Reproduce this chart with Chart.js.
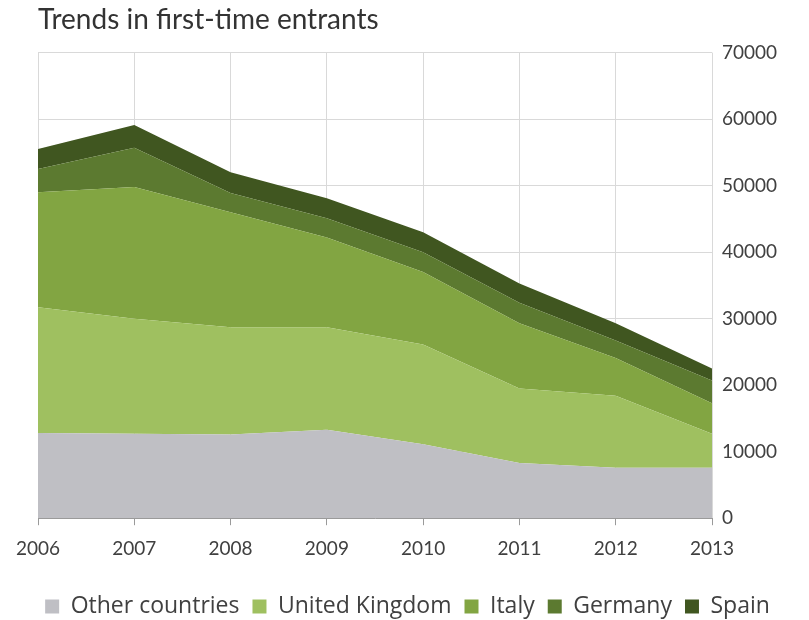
<!DOCTYPE html>
<html>
<head>
<meta charset="utf-8">
<script src="https://cdn.jsdelivr.net/npm/chart.js@4"></script>
<style>
  html, body { margin: 0; padding: 0; background: #fff; }
  #wrap { width: 809px; height: 620px; }
</style>
</head>
<body>
<div id="wrap"><canvas id="entrants-chart" width="809" height="620"></canvas></div>
<script>
const entrantsCanvas = document.getElementById('entrants-chart');

// data
const years = ["2006", "2007", "2008", "2009", "2010", "2011", "2012", "2013"];
const yTicks = [0, 10000, 20000, 30000, 40000, 50000, 60000, 70000];
const otherCountries = [12800, 12700, 12600, 13300, 11100, 8300, 7600, 7600];
const unitedKingdom = [18900, 17300, 16100, 15400, 15000, 11200, 10800, 5100];
const italy = [17300, 19800, 17300, 13500, 10900, 9800, 5700, 4600];
const germany = [3500, 5900, 2900, 2900, 3000, 3100, 2600, 3400];
const spain = [3000, 3400, 3100, 3000, 3000, 2900, 2600, 1800];

const font = "Lato, 'Open Sans', sans-serif";
const legendFont = "'Open Sans', Lato, sans-serif";

function area(label, data, color, fill) {
    return {
        label: label,
        data: data,
        backgroundColor: color,
        borderColor: color,
        borderWidth: 0,
        pointRadius: 0,
        tension: 0,
        fill: fill
    };
}

const entrantsData = {
    labels: years,
    datasets: [
        area('Other countries', otherCountries, 'rgb(191, 191, 196)', 'origin'),
        area('United Kingdom', unitedKingdom, 'rgb(159, 192, 96)', '-1'),
        area('Italy', italy, 'rgb(130, 165, 66)', '-1'),
        area('Germany', germany, 'rgb(92, 122, 48)', '-1'),
        area('Spain', spain, 'rgb(64, 86, 32)', '-1')
    ]
};

// nudge the legend a little to the left, like the original
const legendShift = {
    id: 'legendShift',
    afterLayout(chart) {
        chart.legend.left -= 16;
        chart.legend.right -= 16;
    }
};

const entrantsOptions = {
    responsive: false,
    animation: false,
    layout: {
        padding: { left: 38, right: 0, top: 3, bottom: -8 }
    },
    scales: {
        x: {
            offset: false,
            grid: {
                color: '#d9d9d9',
                tickColor: '#9a9a9a',
                tickLength: 7
            },
            border: { color: '#9a9a9a' },
            ticks: {
                color: '#404040',
                font: { family: font, size: 19 },
                padding: 12,
                maxRotation: 0
            },
            // leave room between the year labels and the legend
            afterFit: axis => { axis.height += 10; }
        },
        y: {
            position: 'right',
            stacked: true,
            min: 0,
            max: 70000,
            afterBuildTicks: axis => {
                axis.ticks = yTicks.map(v => ({ value: v }));
            },
            // fixed room for the right-hand labels
            afterFit: axis => { axis.width = 97; },
            grid: {
                color: '#d9d9d9',
                drawTicks: false
            },
            border: { display: false },
            ticks: {
                color: '#404040',
                font: { family: font, size: 19 },
                padding: 10,
                callback: value => String(value)
            }
        }
    },
    plugins: {
        title: {
            display: true,
            text: 'Trends in first-time entrants',
            align: 'start',
            color: '#333333',
            font: { family: font, size: 28, weight: 'normal' },
            padding: { top: 0, bottom: 16 }
        },
        legend: {
            position: 'bottom',
            labels: {
                color: '#404040',
                font: { family: legendFont, size: 23 },
                boxWidth: 14,
                boxHeight: 14,
                padding: 13
            }
        },
        tooltip: { enabled: false }
    }
};

new Chart(entrantsCanvas, {
    type: 'line',
    data: entrantsData,
    options: entrantsOptions,
    plugins: [legendShift]
});
</script>
</body>
</html>
